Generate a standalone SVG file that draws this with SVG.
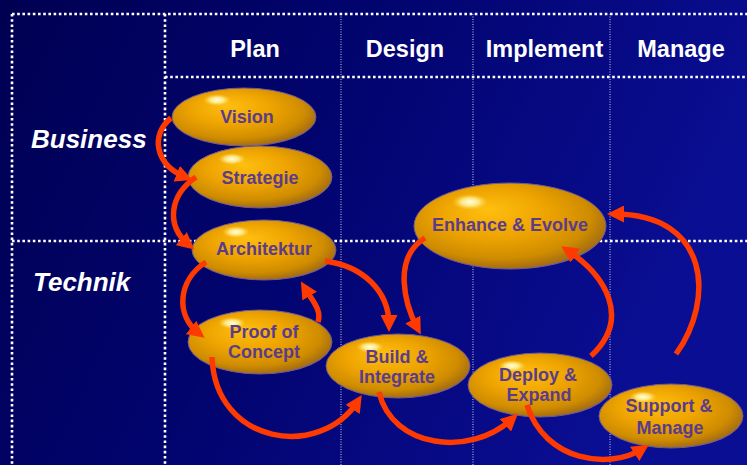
<svg xmlns="http://www.w3.org/2000/svg" width="747" height="465" viewBox="0 0 747 465">
<defs>
<linearGradient id="bg" x1="0" y1="0" x2="1" y2="0.3">
<stop offset="0" stop-color="#000052"/>
<stop offset="0.5" stop-color="#020470"/>
<stop offset="1" stop-color="#0a0e92"/>
</linearGradient>
<radialGradient id="gold" cx="0.45" cy="0.42" r="0.62" fx="0.38" fy="0.3">
<stop offset="0" stop-color="#ffbf10"/>
<stop offset="0.45" stop-color="#eea400"/>
<stop offset="0.78" stop-color="#cf8c00"/>
<stop offset="0.93" stop-color="#a87010"/>
<stop offset="1" stop-color="#7a5a78"/>
</radialGradient>
<radialGradient id="hl" cx="0.5" cy="0.5" r="0.5">
<stop offset="0" stop-color="#ffffe0" stop-opacity="1"/>
<stop offset="0.5" stop-color="#fff3a0" stop-opacity="0.8"/>
<stop offset="1" stop-color="#ffd040" stop-opacity="0"/>
</radialGradient>
<marker id="ah" viewBox="0 0 17 17" refX="10" refY="8.5" markerWidth="17" markerHeight="17" markerUnits="userSpaceOnUse" orient="auto">
<path d="M0,0 L17,8.5 L0,17 z" fill="#ff3a00"/>
</marker>
<style>
.thick{stroke:#ffffff;stroke-width:2.6;stroke-dasharray:2.6 2.6;fill:none}
.thin{stroke:#d0d0ee;stroke-width:1;stroke-dasharray:1 1.5;fill:none}
.hdr{font-family:"Liberation Sans",Arial,sans-serif;font-weight:bold;font-size:23.5px;fill:#ffffff;text-anchor:middle}
.row{font-family:"Liberation Sans",Arial,sans-serif;font-weight:bold;font-style:italic;font-size:26px;fill:#ffffff}
.pill{fill:url(#gold);stroke:#6d5a9e;stroke-width:1}
.hi{fill:url(#hl)}
.lbl{font-family:"Liberation Sans",Arial,sans-serif;font-weight:bold;font-size:18px;fill:#5b3c8c;text-anchor:middle}
.arr{fill:none;stroke:#ff3a00;stroke-width:5.5;marker-end:url(#ah)}
</style>
</defs>
<rect width="747" height="465" fill="url(#bg)"/>
<g id="grid">
<line class="thin" x1="341" y1="14" x2="341" y2="465"/>
<line class="thin" x1="473" y1="14" x2="473" y2="465"/>
<line class="thin" x1="610" y1="14" x2="610" y2="465"/>
<line class="thick" x1="12" y1="14" x2="747" y2="14"/>
<line class="thick" x1="12" y1="14" x2="12" y2="465"/>
<line class="thick" x1="165" y1="14" x2="165" y2="465"/>
<line class="thick" x1="165" y1="77" x2="747" y2="77"/>
<line class="thick" x1="12" y1="241" x2="747" y2="241"/>
</g>
<g id="headers">
<text class="hdr" x="255" y="57">Plan</text>
<text class="hdr" x="405" y="57">Design</text>
<text class="hdr" x="544.5" y="57">Implement</text>
<text class="hdr" x="681" y="57">Manage</text>
<text class="row" x="31" y="148">Business</text>
<text class="row" x="33" y="291">Technik</text>
</g>
<g id="vision">
<ellipse class="pill" cx="244" cy="117" rx="72" ry="29"/>
<ellipse class="hi" cx="217" cy="100" rx="14" ry="6"/>
<text class="lbl" x="247" y="123">Vision</text>
</g>
<g id="strategie">
<ellipse class="pill" cx="260" cy="177" rx="72" ry="31"/>
<ellipse class="hi" cx="232" cy="159" rx="14" ry="6"/>
<text class="lbl" x="260" y="184">Strategie</text>
</g>
<g id="architektur">
<ellipse class="pill" cx="264" cy="250" rx="72" ry="30"/>
<ellipse class="hi" cx="236" cy="232" rx="14" ry="6"/>
<text class="lbl" x="264" y="255">Architektur</text>
</g>
<g id="proof">
<ellipse class="pill" cx="260" cy="342" rx="72" ry="32"/>
<ellipse class="hi" cx="232" cy="323" rx="14" ry="6"/>
<text class="lbl" x="264" y="338">Proof of</text>
<text class="lbl" x="264" y="357.5">Concept</text>
</g>
<g id="build">
<ellipse class="pill" cx="398" cy="366" rx="72" ry="32"/>
<ellipse class="hi" cx="370" cy="347" rx="14" ry="6"/>
<text class="lbl" x="397" y="363">Build &amp;</text>
<text class="lbl" x="397" y="383">Integrate</text>
</g>
<g id="deploy">
<ellipse class="pill" cx="540" cy="385" rx="72" ry="32"/>
<ellipse class="hi" cx="512" cy="366" rx="14" ry="6"/>
<text class="lbl" x="538" y="380.5">Deploy &amp;</text>
<text class="lbl" x="539" y="400.5">Expand</text>
</g>
<g id="support">
<ellipse class="pill" cx="671" cy="416" rx="72" ry="32"/>
<ellipse class="hi" cx="643" cy="397" rx="14" ry="6"/>
<text class="lbl" x="669" y="412">Support &amp;</text>
<text class="lbl" x="670" y="434">Manage</text>
</g>
<g id="enhance">
<ellipse class="pill" cx="510" cy="226" rx="96" ry="43"/>
<ellipse class="hi" cx="470" cy="202" rx="18" ry="8"/>
<text class="lbl" x="510" y="231">Enhance &amp; Evolve</text>
</g>
<g id="connectors">
<path class="arr" d="M171,118 C150,135 155,165 186,177.5"/>
<path class="arr" d="M196,177 C170,195 165,225 189,245"/>
<path class="arr" d="M206,262 C178,280 175,315 199,333.5"/>
<path class="arr" d="M318,322 C322,310 312,300 304.5,287.5"/>
<path class="arr" d="M325,261 C362,266 389,290 389,325"/>
<path class="arr" d="M425,238 C392,258 405,305 417.5,328.4"/>
<path class="arr" d="M212,357 C215,445 320,460 358,401"/>
<path class="arr" d="M379,392 C392,448 470,458 512.7,418.5"/>
<path class="arr" d="M527,405 C545,462 610,470 643,448.5"/>
<path class="arr" d="M591,356 C632,318 605,275 567,250"/>
<path class="arr" d="M676,354 C715,300 710,214 614,214"/>
</g>
</svg>
